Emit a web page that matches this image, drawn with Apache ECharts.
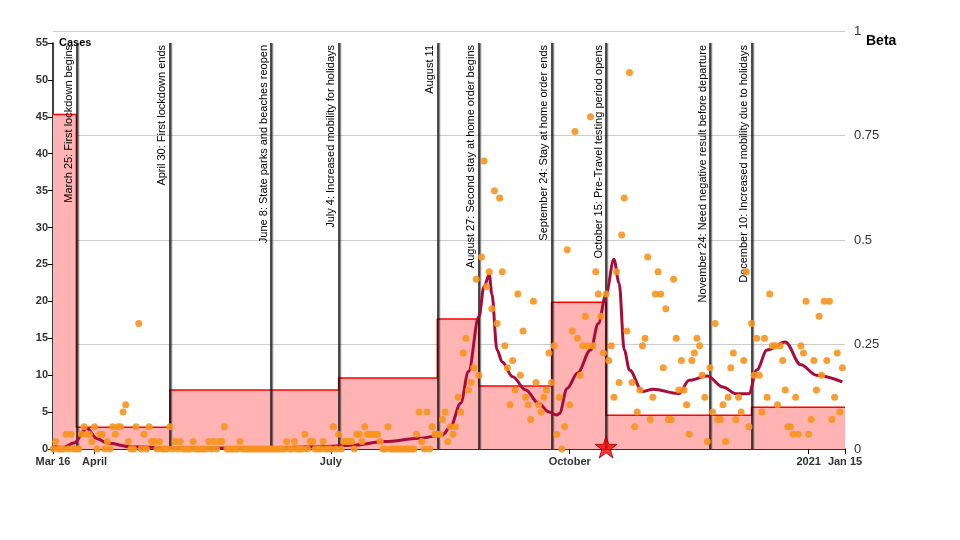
<!DOCTYPE html>
<html>
<head>
<meta charset="utf-8">
<title>Cases and Beta</title>
<script src="https://cdn.jsdelivr.net/npm/echarts@6/dist/echarts.min.js"></script>
<style>
    html, body { margin: 0; padding: 0; background: #fff; }
    #main { width: 960px; height: 540px; }
</style>
</head>
<body>
<div id="main"></div>
<script>
// axis range and ticks
var startDate = '2020-03-16';
var endDate = '2021-01-15';
var tickDates = ['2020-03-16', '2020-04-01', '2020-07-01', '2020-10-01', '2021-01-01', '2021-01-15'];
var tickLabels = ['Mar 16', 'April', 'July', 'October', '2021', 'Jan 15'];

// daily cases, one value per day from startDate
var dailyCases = [
    0, 1, 0, 0, 0, 2, 0, 2, 0, 0,
    0, 2, 3, 2, 2, 1, 3, 0, 2, 2,
    0, 1, 0, 3, 2, 3, 3, 5, 6, 1,
    0, 0, 3, 17, 0, 2, 0, 3, 1, 1,
    0, 1, 0, 0, 0, 3, 0, 1, 0, 1,
    0, 0, 0, 0, 1, 0, 0, 0, 0, 0,
    1, 0, 1, 0, 1, 1, 3, 0, 0, 0,
    0, 0, 1, 0, 0, 0, 0, 0, 0, 0,
    0, 0, 0, 0, 0, 0, 0, 0, 0, 0,
    1, 0, 0, 1, 0, 0, 0, 2, 0, 1,
    1, 0, 0, 0, 1, 0, 0, 0, 3, 0,
    2, 0, 1, 1, 1, 1, 0, 2, 2, 1,
    3, 2, 2, 2, 2, 2, 1, 0, 0, 3,
    0, 0, 0, 0, 0, 0, 0, 0, 0, 0,
    2, 5, 1, 0, 5, 0, 3, 2, 2, 2,
    4, 5, 1, 3, 2, 3, 7, 5, 13, 15,
    8, 9, 11, 23, 10, 26, 39, 22, 24, 19,
    35, 17, 34, 24, 14, 11, 6, 12, 8, 21,
    10, 16, 7, 6, 4, 20, 9, 6, 5, 7,
    8, 13, 9, 14, 2, 7, 0, 3, 27, 6,
    16, 43, 15, 10, 14, 18, 14, 45, 14, 24,
    21, 18, 13, 21, 12, 14, 7, 24, 9, 29,
    34, 16, 51, 9, 3, 5, 8, 14, 15, 26,
    4, 7, 21, 24, 21, 11, 19, 4, 4, 23,
    15, 8, 12, 8, 6, 2, 12, 13, 15, 14,
    10, 7, 1, 11, 5, 17, 4, 4, 6, 1,
    7, 11, 13, 4, 7, 5, 12, 24, 3, 17,
    10, 15, 10, 5, 15, 7, 21, 14, 14, 6,
    14, 12, 8, 3, 3, 2, 7, 2, 14, 13,
    20, 2, 4, 12, 8, 18, 10, 20, 12, 20,
    4, 7, 13, 5, 11
];

// smoothed curve (dark red)
var avgDates = ['2020-03-16', '2020-03-20', '2020-03-24', '2020-03-29', '2020-04-02', '2020-04-06',
    '2020-04-15', '2020-04-30', '2020-05-30', '2020-06-27', '2020-07-09', '2020-07-22', '2020-08-04',
    '2020-08-13', '2020-08-16', '2020-08-20', '2020-08-23', '2020-08-27', '2020-08-29', '2020-08-31',
    '2020-09-01', '2020-09-03', '2020-09-05', '2020-09-09', '2020-09-14', '2020-09-19', '2020-09-23',
    '2020-09-26', '2020-09-27', '2020-09-30', '2020-10-04', '2020-10-09', '2020-10-12', '2020-10-15',
    '2020-10-18', '2020-10-20', '2020-10-22', '2020-10-24', '2020-10-29', '2020-11-02', '2020-11-12',
    '2020-11-16', '2020-11-23', '2020-11-29', '2020-12-04', '2020-12-09', '2020-12-12', '2020-12-16',
    '2020-12-23', '2020-12-29', '2021-01-04', '2021-01-14'];
var avgCases = [0.3, 0.2, 0.8, 2.8, 1.4, 0.8,
    0.3, 0.15, 0.1, 0.3, 0.5, 1.0, 1.45,
    1.9, 3, 6.2, 10.5, 17.9, 22, 23.6,
    21, 13.4, 11.8, 9.8, 8, 6.2, 5,
    4.6, 4.8, 8.2, 10.3, 13.4, 17, 21,
    25.7, 22.5, 13.4, 10.7, 7.8, 8.1, 7.5,
    9.3, 9.9, 8.4, 7.5, 7.5, 10.7, 13.4,
    14.5, 11.4, 10, 9.1];

// beta step function (right axis)
var betaDates = ['2020-03-16', '2020-03-25', '2020-04-30', '2020-07-04', '2020-08-11',
    '2020-08-27', '2020-09-24', '2020-10-15', '2020-12-10', '2021-01-15'];
var betaValues = [0.80, 0.052, 0.141, 0.170, 0.311, 0.151, 0.351, 0.081, 0.100, 0.100];

// events
var eventDates = ['2020-03-25', '2020-04-30', '2020-06-08', '2020-07-04', '2020-08-11',
    '2020-08-27', '2020-09-24', '2020-10-15', '2020-11-24', '2020-12-10'];
var eventLabels = [
    'March 25: First lockdown begins',
    'April 30: First lockdown ends',
    'June 8: State parks and beaches reopen',
    'July 4: Increased mobility for holidays',
    'August 11',
    'August 27: Second stay at home order begins',
    'September 24: Stay at home order ends',
    'October 15: Pre-Travel testing period opens',
    'November 24: Need negative result before departure',
    'December 10: Increased mobility due to holidays'
];
var starDate = '2020-10-15';

function toTime(s) {
    var p = s.split('-');
    return new Date(+p[0], +p[1] - 1, +p[2]).getTime();
}

var t0 = toTime(startDate);
var t1 = toTime(endDate);
var tickTimes = tickDates.map(toTime);
var s0 = startDate.split('-');

var caseData = dailyCases.map(function (v, i) {
    return [new Date(+s0[0], +s0[1] - 1, +s0[2] + i).getTime(), v];
});
var avgData = avgDates.map(function (d, i) { return [toTime(d), avgCases[i]]; });
var betaData = betaDates.map(function (d, i) { return [toTime(d), betaValues[i]]; });
var eventData = eventDates.map(function (d, i) {
    return {xAxis: toTime(d), label: {formatter: eventLabels[i]}};
});

var starPath = 'path://M50,0 L61.8,35.1 L98.8,35.1 L68.9,56.9 L80.3,92.1 L50,70.4 L19.7,92.1 L31.1,56.9 L1.2,35.1 L38.2,35.1 Z';

var myChart = echarts.init(document.getElementById('main'));

var option = {
    animation: false,
    textStyle: {fontFamily: '"Liberation Sans", Arial, sans-serif'},
    grid: [
        {left: 53, right: 115, top: 43, bottom: 91},
        {left: 53, right: 115, top: 31, bottom: 91}
    ],
    xAxis: [
        {
            type: 'value',
            gridIndex: 0,
            min: t0,
            max: t1,
            axisLine: {lineStyle: {color: '#000', width: 1.5}},
            axisTick: {show: true, customValues: tickTimes, length: 5, lineStyle: {color: '#000'}},
            axisLabel: {
                customValues: tickTimes,
                color: '#333',
                fontWeight: 'bold',
                fontSize: 11,
                margin: 7,
                formatter: function (v) {
                    var i = tickTimes.indexOf(v);
                    return i >= 0 ? tickLabels[i] : '';
                }
            },
            splitLine: {show: false}
        },
        {type: 'value', gridIndex: 1, min: t0, max: t1, show: false}
    ],
    yAxis: [
        {
            type: 'value',
            gridIndex: 0,
            min: 0,
            max: 55,
            interval: 5,
            name: 'Cases',
            nameLocation: 'end',
            nameGap: 0,
            nameMoveOverlap: false,
            nameTextStyle: {
                color: '#000', fontWeight: 'bold', fontSize: 11,
                align: 'left', verticalAlign: 'middle', padding: [0, 0, 0, 6]
            },
            axisLine: {show: true, lineStyle: {color: '#000', width: 1.5}},
            axisTick: {show: true, length: 5, lineStyle: {color: '#000'}},
            axisLabel: {color: '#333', fontWeight: 'bold', fontSize: 11, margin: 5},
            splitLine: {show: false}
        },
        {
            type: 'value',
            gridIndex: 1,
            position: 'right',
            min: 0,
            max: 1,
            interval: 0.25,
            name: 'Beta',
            nameLocation: 'end',
            nameGap: -10,
            nameMoveOverlap: false,
            nameTextStyle: {
                color: '#000', fontWeight: 'bold', fontSize: 14,
                align: 'left', verticalAlign: 'middle', padding: [0, 0, 0, 21]
            },
            axisLine: {show: false},
            axisTick: {show: false},
            axisLabel: {color: '#333', fontSize: 13, margin: 9},
            splitLine: {show: true, lineStyle: {color: '#cccccc', width: 1}}
        }
    ],
    series: [
        {
            name: 'Beta',
            type: 'line',
            xAxisIndex: 1,
            yAxisIndex: 1,
            step: 'end',
            symbol: 'none',
            data: betaData,
            lineStyle: {color: '#ff0000', width: 1.5},
            areaStyle: {color: '#ffb3b3', opacity: 1},
            z: 1
        },
        {
            name: 'Average',
            type: 'line',
            xAxisIndex: 0,
            yAxisIndex: 0,
            smooth: 0.35,
            smoothMonotone: 'x',
            symbol: 'none',
            data: avgData,
            lineStyle: {color: '#a80c3a', width: 3},
            z: 6,
            markLine: {
                silent: true,
                animation: false,
                z: 3,
                symbol: ['none', 'none'],
                data: eventData,
                lineStyle: {
                    color: '#111', width: 1.5, type: 'solid',
                    shadowColor: 'rgba(0,0,0,0.45)', shadowOffsetX: 1.5, shadowBlur: 0
                },
                label: {
                    show: true,
                    position: 'insideEndTop',
                    color: '#000',
                    fontSize: 11,
                    distance: 2
                }
            }
        },
        {
            name: 'Cases',
            type: 'scatter',
            xAxisIndex: 0,
            yAxisIndex: 0,
            data: caseData,
            symbolSize: 7,
            clip: false,
            itemStyle: {color: '#f7931e', opacity: 0.9},
            z: 7
        },
        {
            name: 'Travel',
            type: 'scatter',
            xAxisIndex: 0,
            yAxisIndex: 0,
            data: [[toTime(starDate), 0]],
            symbol: starPath,
            symbolSize: 22,
            symbolOffset: [0, -2],
            clip: false,
            itemStyle: {color: '#ff0000', borderColor: '#8b0000', borderWidth: 1},
            z: 8
        }
    ]
};

myChart.setOption(option);
</script>
</body>
</html>
